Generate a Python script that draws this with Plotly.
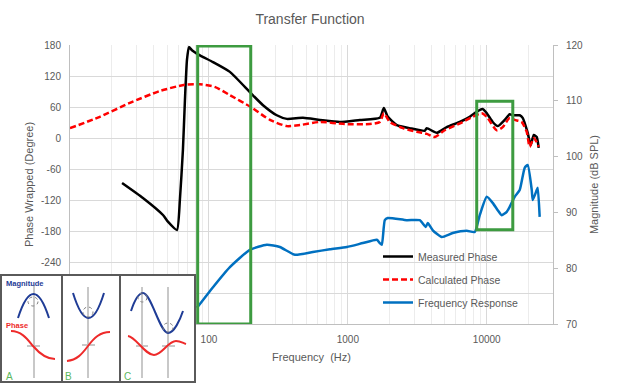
import plotly.graph_objects as go

# ---------------- data ----------------
meas_freq = [23.7, 33.5, 46.7, 50.7, 58.9, 61.8, 65, 67.2, 69.5, 71.8,
             75.5, 86.1, 107, 141.6, 200, 244, 308, 364, 475, 630,
             875, 1220, 1700, 1816, 1940, 2253, 2792, 3580, 3701, 4368,
             5152, 6391, 7546, 8617, 9355, 10000, 11040, 11990, 13460, 14630,
             15380, 17270, 18150, 19720, 20730, 21800, 22900, 23660]
meas_phase = [-87, -116, -149, -162, -178, -120, -23, 73, 151, 176,
              170, 160, 147, 128, 87, 64, 44, 37, 39, 35,
              31, 35, 39, 58, 41, 25, 19, 14, 19, 10,
              21, 31, 41, 52, 56, 48, 31, 23, 35, 46,
              44, 44, 39, 10, -14, 6, 2, -19]

calc_freq = [10, 16.4, 27, 44.4, 67.2, 86.1, 110, 141.6, 200, 275,
             364, 452, 630, 951, 1439, 1700, 1816, 2005, 2488, 3135,
             3701, 4227, 4986, 6718, 7931, 9200, 10000, 11800, 13030, 14630,
             15890, 17850, 19400, 20380, 21800, 22900, 23660]
calc_phase = [19, 41, 68, 91, 103, 104, 99, 83, 60, 35,
              23, 25, 31, 27, 27, 31, 48, 31, 19, 12,
              8, 2, 15, 31, 41, 48, 41, 15, 21, 39,
              35, 31, 12, -17, 0, -8, -17]

fr_freq = [82, 107, 141.6, 197, 261, 324, 416, 560, 743, 984,
           1282, 1617, 1700, 1757, 1846, 1940, 2657, 3294, 3640, 3763,
           4090, 4745, 5690, 7180, 8200, 8905, 10000, 11040, 11990, 12820,
           13930, 14630, 15890, 17270, 18760, 19720, 21090, 21440, 22900, 23280,
           24050]
fr_db = [72.9, 76.6, 80.2, 83.3, 84.2, 83.8, 82.4, 82.9, 83.4, 83.8,
         84.5, 85.1, 84.5, 84.2, 88.6, 89.0, 88.6, 88.6, 87.4, 88.1,
         86.8, 85.6, 86.3, 86.7, 86.5, 89.5, 92.8, 91.7, 90.4, 89.5,
         90.1, 91.0, 92.8, 94.0, 98.0, 98.5, 94.0, 92.2, 94.0, 94.4,
         89.2]

x_tickvals = [10, 100, 1000, 10000]
x_ticktext = ["10", "100", "1000", "10000"]
phase_ticks = [180, 120, 60, 0, -60, -120, -180, -240, -300, -360]
mag_ticks = [70, 80, 90, 100, 110, 120]

# highlighted regions (Hz, degrees / dB)
box1_f = (83, 200)
box2_f = (8470, 15400)
box2_db = (86.9, 109.9)

TXT = "#595959"
FONT = "Liberation Sans"
W, H = 620, 384

fig = go.Figure()
fig.add_trace(go.Scatter(x=meas_freq, y=meas_phase, name="Measured Phase",
                         mode="lines", line=dict(color="black", width=2.5, shape="spline", smoothing=0.5),
                         legendgroup="a"))
fig.add_trace(go.Scatter(x=calc_freq, y=calc_phase, name="Calculated Phase",
                         mode="lines", line=dict(color="#ff0000", width=2.5, dash="6px,3px", shape="spline", smoothing=0.6),
                         legendgroup="b"))
fig.add_trace(go.Scatter(x=fr_freq, y=fr_db, name="Frequency Response", yaxis="y2",
                         mode="lines", line=dict(color="#0070c0", width=2.5, shape="spline", smoothing=0.5),
                         legendgroup="c"))

X0, X1, Y0, Y1 = 70, 553, 45, 324
fig.update_layout(
    width=W, height=H,
    margin=dict(l=0, r=0, t=0, b=0, autoexpand=False),
    paper_bgcolor="white", plot_bgcolor="white",
    font=dict(family=FONT, size=10, color=TXT),
    title=dict(text="Transfer Function", x=0.5, xanchor="center", xref="paper",
               y=1 - 19 / H, yanchor="middle", yref="container", automargin=False,
               font=dict(size=14, color=TXT, family=FONT)),
    showlegend=True,
    legend=dict(x=378 / W, y=1 - 242 / H, xanchor="left", yanchor="top", bgcolor="rgba(0,0,0,0)",
                font=dict(size=10.5, color=TXT), tracegroupgap=4, itemwidth=30),
    xaxis=dict(type="log", range=[1, 4.477], domain=[X0 / W, X1 / W], automargin=False,
               tickvals=x_tickvals, ticktext=x_ticktext, ticks="", ticklabelstandoff=6,
               showgrid=True, gridcolor="#d9d9d9", gridwidth=1,
               minor=dict(dtick="D1", showgrid=True, gridcolor="#ececec", gridwidth=1, ticks=""),
               showline=True, linecolor="#bfbfbf", linewidth=1, zeroline=False,
               title=dict(text="Frequency  (Hz)", standoff=9, font=dict(size=11, color=TXT))),
    yaxis=dict(range=[-360, 180], domain=[1 - Y1 / H, 1 - Y0 / H], automargin=False,
               tickvals=phase_ticks, ticktext=[str(v) for v in phase_ticks], ticks="",
               ticklabelstandoff=6, showgrid=True, gridcolor="#d9d9d9", gridwidth=1,
               showline=True, linecolor="#bfbfbf", linewidth=1, zeroline=False,
               title=dict(text="Phase Wrapped (Degree)", standoff=5, font=dict(size=11, color=TXT))),
    yaxis2=dict(range=[70, 120], overlaying="y", side="right", anchor="x", automargin=False,
                tickvals=mag_ticks, ticks="outside", ticklen=4, tickcolor="#bfbfbf",
                ticklabelstandoff=6, showgrid=False, showline=True, linecolor="#bfbfbf", linewidth=1,
                zeroline=False,
                title=dict(text="Magnitude (dB SPL)", standoff=8, font=dict(size=11, color=TXT))),
)

GREEN = "#3d9b40"
fig.add_shape(type="rect", xref="x", yref="y", x0=box1_f[0], x1=box1_f[1], y0=-360, y1=178,
              line=dict(color=GREEN, width=3), fillcolor="rgba(0,0,0,0)", layer="above")
fig.add_shape(type="rect", xref="x", yref="y2", x0=box2_f[0], x1=box2_f[1], y0=box2_db[0], y1=box2_db[1],
              line=dict(color=GREEN, width=3), fillcolor="rgba(0,0,0,0)", layer="above")

# ---------------- inset schematic (paper coordinates from pixel positions) ----------------
def px(x):
    return x / W

def py(y):
    return 1 - y / H

def path(segs):
    out = []
    for cmd, pts in segs:
        out.append(cmd + " " + " ".join(f"{px(a):.5f},{py(b):.5f}" for a, b in pts))
    return " ".join(out)

def pshape(segs, color, width=2, dash="solid"):
    fig.add_shape(type="path", xref="paper", yref="paper", path=path(segs),
                  line=dict(color=color, width=width, dash=dash), layer="above")

def line(x0, y0, x1, y1, color, width=2):
    fig.add_shape(type="line", xref="paper", yref="paper", x0=px(x0), y0=py(y0), x1=px(x1), y1=py(y1),
                  line=dict(color=color, width=width), layer="above")

# white background panel
fig.add_shape(type="rect", xref="paper", yref="paper", x0=px(0), x1=px(195), y0=py(383), y1=py(275),
              fillcolor="white", line=dict(width=0), layer="above")

GRAY = "#c8c8c8"
for gx, gy0 in [(34, 285), (88, 287), (142, 287), (168, 287)]:
    line(gx, gy0, gx, 378, GRAY)
for hx0, hx1, hy in [(27, 40, 346), (82, 95, 345), (136, 148, 346), (162, 175, 346)]:
    line(hx0, hy, hx1, hy, GRAY)

BLUE_D = "#1f3c96"
RED = "#ee2a2a"
pshape([("M", [(18, 318)]), ("Q", [(33.5, 270), (49, 318)])], BLUE_D)
pshape([("M", [(73, 293)]), ("Q", [(88.5, 343), (104, 293)])], BLUE_D)
pshape([("M", [(131, 311)]), ("C", [(135, 299), (139, 293), (143, 293)]),
        ("C", [(151, 293), (160, 333), (168, 333)]), ("C", [(174, 333), (180, 320), (183, 311)])], BLUE_D)

pshape([("M", [(11, 331)]), ("C", [(22, 331), (28, 340), (33, 346)]),
        ("C", [(39, 353), (46, 359), (55, 359)])], RED)
pshape([("M", [(67, 361)]), ("C", [(77, 360), (82, 354), (88, 346)]),
        ("C", [(94, 338), (100, 332), (110, 332)])], RED)
pshape([("M", [(128, 336)]), ("C", [(136, 337), (145, 355), (154, 355)]),
        ("C", [(162, 355), (168, 341), (176, 341)]), ("C", [(180, 341), (183, 343), (186, 344)])], RED)

for cx0, cy0, cx1, cy1 in [(28, 297, 38, 306), (83, 307, 93, 317), (138, 293, 147, 302), (163, 323, 173, 332)]:
    fig.add_shape(type="circle", xref="paper", yref="paper", x0=px(cx0), x1=px(cx1), y0=py(cy1), y1=py(cy0),
                  line=dict(color="#808080", width=1, dash="dot"), layer="above")

# panel borders
BORDER = "#5a5a5a"
fig.add_shape(type="rect", xref="paper", yref="paper", x0=px(1), x1=px(195), y0=py(382), y1=py(275),
              line=dict(color=BORDER, width=2), fillcolor="rgba(0,0,0,0)", layer="above")
line(62, 275, 62, 382, BORDER)
line(120, 275, 120, 382, BORDER)

fig.add_annotation(x=px(4), y=py(283), xref="paper", yref="paper", text="<b>Magnitude</b>", showarrow=False,
                   xanchor="left", yanchor="middle", font=dict(size=7.5, color=BLUE_D, family=FONT))
fig.add_annotation(x=px(4), y=py(325), xref="paper", yref="paper", text="<b>Phase</b>", showarrow=False,
                   xanchor="left", yanchor="middle", font=dict(size=7.5, color=RED, family=FONT))
for lx, lt in [(4, "A"), (63, "B"), (122, "C")]:
    fig.add_annotation(x=px(lx), y=py(376), xref="paper", yref="paper", text=lt, showarrow=False,
                       xanchor="left", yanchor="middle", font=dict(size=10, color="#5cb85c", family=FONT))

fig.write_html("out.html", config={"displayModeBar": False},
               post_script="document.body.style.margin='0';document.body.style.overflow='hidden';")
